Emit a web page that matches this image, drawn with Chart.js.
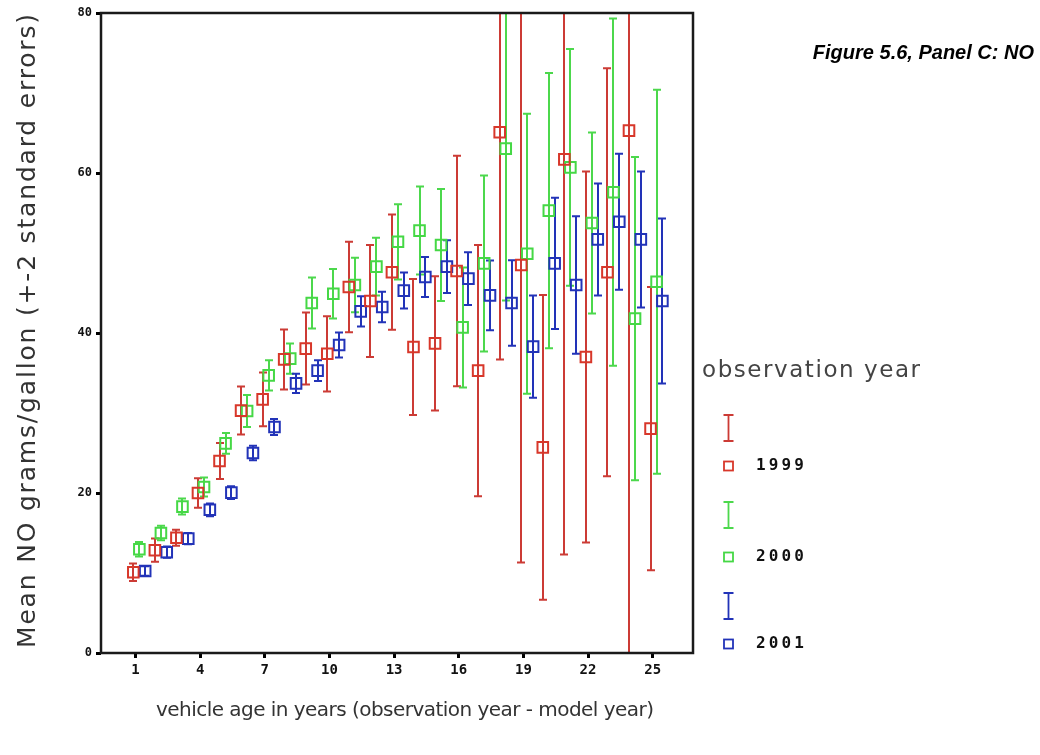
<!DOCTYPE html>
<html><head><meta charset="utf-8">
<script src="https://cdn.jsdelivr.net/npm/chart.js@4.4.0/dist/chart.umd.min.js"></script>
<style>html,body{margin:0;padding:0;background:#fff;}#wrap{width:1040px;height:755px;position:relative;}</style>
</head><body><div id="wrap"><canvas id="c" width="1040" height="755"></canvas></div>
<script>
// ---------- data ----------
const ages = [1,2,3,4,5,6,7,8,9,10,11,12,13,14,15,16,17,18,19,20,21,22,23,24,25];
const seriesNames = ['1999','2000','2001'];
const mean1999 = [10.1,12.85,14.4,20.0,24.0,30.3,31.7,36.7,38.05,37.4,45.75,44.0,47.6,38.25,38.7,47.75,35.3,65.1,48.5,25.7,61.7,37.0,47.6,65.3,28.05];
const err1999  = [1.1,1.45,1.0,1.85,2.25,3.0,3.35,3.75,4.5,4.7,5.65,7.0,7.2,8.5,8.4,14.4,15.7,28.4,37.2,19.05,49.4,23.2,25.5,70,17.7];
const mean2000 = [12.96,15.0,18.3,20.75,26.2,30.25,34.7,36.8,43.75,44.9,46.0,48.3,51.4,52.8,51.0,40.7,48.7,63.05,49.9,55.3,60.7,53.75,57.6,41.8,46.4];
const err2000  = [0.9,0.9,1.0,1.2,1.3,2.0,1.9,1.9,3.2,3.1,3.4,3.6,4.7,5.5,7.0,7.5,11.0,19.0,17.5,17.2,14.8,11.3,21.7,20.2,24.0];
const mean2001 = [10.25,12.6,14.3,17.9,20.05,25.0,28.25,33.7,35.3,38.5,42.7,43.25,45.3,47.0,48.3,46.8,44.7,43.75,38.3,48.7,46.0,51.7,53.9,51.7,44.0];
const err2001  = [0.6,0.7,0.7,0.8,0.8,0.9,1.0,1.2,1.3,1.55,1.9,1.9,2.25,2.5,3.3,3.3,4.35,5.35,6.4,8.2,8.6,7.0,8.5,8.5,10.3];
const xTickLabels = [1,4,7,10,13,16,19,22,25];
const yTickLabels = [0,20,40,60,80];
const chartTitle = 'Figure 5.6, Panel C: NO';
const xTitle = 'vehicle age in years (observation year - model year)';
const yTitle = 'Mean NO grams/gallon (+-2 standard errors)';
const legendTitle = 'observation year';

// ---------- styling ----------
const markerColors = ['#d8372a','#45d845','#2233b8'];
const barColors    = ['#cc3b35','#4cd84c','#2233b8'];
const clusterOffset = [-0.1, 0.18, 0.45];
const means = [mean1999, mean2000, mean2001];
const errs  = [err1999, err2000, err2001];

const datasets = seriesNames.map((name, k) => ({
  label: name,
  data: ages.map((a, i) => ({x: a + clusterOffset[k], y: means[k][i]})),
  errors: errs[k],
  barColor: barColors[k],
  pointStyle: 'rect',
  pointRadius: 7.5,
  pointHoverRadius: 7.5,
  borderColor: markerColors[k],
  backgroundColor: 'rgba(0,0,0,0)',
  borderWidth: 2,
  showLine: false
}));

function spacedText(ctx, text, x, y, width) {
  ctx.letterSpacing = '0px';
  const w0 = ctx.measureText(text).width;
  const sp = (width - w0) / Math.max(1, text.length - 1);
  ctx.letterSpacing = sp + 'px';
  ctx.textAlign = 'left';
  ctx.fillText(text, x, y);
  ctx.letterSpacing = '0px';
}

const bgPlugin = {
  id: 'bg',
  beforeDraw(chart) {
    const ctx = chart.ctx;
    ctx.save(); ctx.fillStyle = '#fff'; ctx.fillRect(0, 0, chart.width, chart.height); ctx.restore();
  }
};

const errorBarPlugin = {
  id: 'errorBars',
  beforeDatasetsDraw(chart) {
    const ctx = chart.ctx, a = chart.chartArea;
    const xs = chart.scales.x, ys = chart.scales.y;
    ctx.save();
    ctx.beginPath(); ctx.rect(a.left, a.top, a.right - a.left, a.bottom - a.top); ctx.clip();
    chart.data.datasets.forEach(ds => {
      ctx.strokeStyle = ds.barColor; ctx.lineWidth = 2;
      ds.data.forEach((p, i) => {
        const e = ds.errors[i];
        const px = Math.round(xs.getPixelForValue(p.x));
        const yt = ys.getPixelForValue(p.y + e), yb = ys.getPixelForValue(p.y - e);
        ctx.beginPath();
        ctx.moveTo(px, yt); ctx.lineTo(px, yb);
        ctx.moveTo(px - 4, yt); ctx.lineTo(px + 4, yt);
        ctx.moveTo(px - 4, yb); ctx.lineTo(px + 4, yb);
        ctx.stroke();
      });
    });
    ctx.restore();
  }
};

const decorPlugin = {
  id: 'decor',
  afterDraw(chart) {
    const ctx = chart.ctx, a = chart.chartArea;
    ctx.save();
    // frame
    ctx.strokeStyle = '#1a1a1a'; ctx.lineWidth = 2.5;
    ctx.strokeRect(a.left, a.top, a.right - a.left, a.bottom - a.top);
    // title
    ctx.fillStyle = '#000';
    ctx.font = 'italic bold 20px "Liberation Sans", Arial, sans-serif';
    ctx.textAlign = 'right'; ctx.textBaseline = 'middle';
    ctx.fillText(chartTitle, 1034, 53);
    // axis titles
    ctx.fillStyle = '#333';
    ctx.font = '20px "DejaVu Sans", sans-serif';
    ctx.textBaseline = 'middle';
    spacedText(ctx, xTitle, 156, 711, 498);
    ctx.save();
    ctx.translate(28, 648); ctx.rotate(-Math.PI / 2);
    ctx.font = '25px "DejaVu Sans", sans-serif';
    spacedText(ctx, yTitle, 0, 0, 634);
    ctx.restore();
    // legend
    ctx.fillStyle = '#444';
    ctx.font = '23px "DejaVu Sans", sans-serif';
    spacedText(ctx, legendTitle, 702, 371, 218);
    const barTop = [415, 502, 593], sqY = [466, 557, 644];
    chart.data.datasets.forEach((ds, k) => {
      const x = 728.5;
      ctx.strokeStyle = ds.barColor; ctx.lineWidth = 1.8;
      ctx.beginPath();
      ctx.moveTo(x, barTop[k]); ctx.lineTo(x, barTop[k] + 26);
      ctx.moveTo(x - 5, barTop[k]); ctx.lineTo(x + 5, barTop[k]);
      ctx.moveTo(x - 5, barTop[k] + 26); ctx.lineTo(x + 5, barTop[k] + 26);
      ctx.stroke();
      ctx.strokeStyle = ds.borderColor; ctx.lineWidth = 1.8;
      ctx.strokeRect(x - 4.5, sqY[k] - 4.5, 9, 9);
      ctx.fillStyle = '#111';
      ctx.font = 'bold 16px "DejaVu Sans Mono", monospace';
      spacedText(ctx, ds.label, 756, sqY[k], 48);
    });
    ctx.restore();
  }
};

new Chart(document.getElementById('c'), {
  type: 'scatter',
  data: { datasets },
  options: {
    responsive: false,
    devicePixelRatio: 1,
    animation: false,
    layout: { padding: { top: 13, right: 347, left: 0, bottom: 0 } },
    plugins: { legend: { display: false }, tooltip: { enabled: false } },
    scales: {
      x: {
        type: 'linear', min: -0.6, max: 26.87,
        afterBuildTicks: s => { s.ticks = xTickLabels.map(v => ({ value: v })); },
        afterFit: s => { s.height = 102; },
        ticks: { autoSkip: false, maxRotation: 0, padding: 4, color: '#111',
                 font: { family: '"DejaVu Sans Mono", monospace', size: 14, weight: 'bold' } },
        grid: { drawOnChartArea: false, drawTicks: true, tickLength: 5, tickWidth: 3, tickColor: '#000' },
        border: { display: false }
      },
      y: {
        type: 'linear', min: 0, max: 80,
        afterBuildTicks: s => { s.ticks = yTickLabels.map(v => ({ value: v })); },
        afterFit: s => { s.width = 101; },
        ticks: { padding: 4, color: '#111',
                 font: { family: '"DejaVu Sans Mono", monospace', size: 12, weight: 'bold' } },
        grid: { drawOnChartArea: false, drawTicks: true, tickLength: 5, tickWidth: 3, tickColor: '#000' },
        border: { display: false }
      }
    }
  },
  plugins: [bgPlugin, errorBarPlugin, decorPlugin]
});
</script>
</body></html>
